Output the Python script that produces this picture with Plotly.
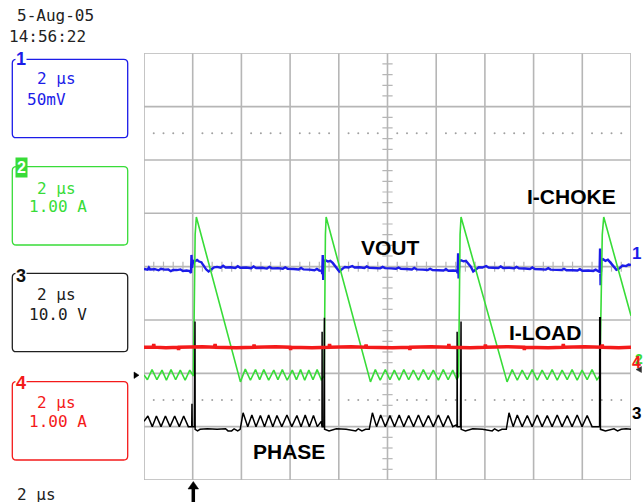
import plotly.graph_objects as go

W, H = 644, 502

# ---------------- data (read from the scope screen) ----------------
# time axis: microseconds, trigger at 0, 2 us/div, 10 divisions
t_range = [-2.0, 18.0]

# CH1  VOUT  (mV, 50 mV/div)
ch1_t = [-2.00, -1.85, -1.80, -1.75, -1.55, -1.40, -1.30, -1.15, -1.00, -0.90, -0.80, -0.65,
         -0.50, -0.40, -0.25, -0.12, -0.07, -0.05, -0.03, 0.02, 0.10, 0.18, 0.26, 0.35, 0.45,
         0.55, 0.65, 0.75, 0.88, 1.00, 1.15, 1.25, 1.35, 1.55, 1.75, 1.85, 1.95, 2.20, 2.40,
         2.50, 2.60, 2.85, 3.05, 3.15, 3.25, 3.50, 3.70, 3.80, 3.90, 4.15, 4.35, 4.45, 4.55,
         4.80, 5.00, 5.10, 5.20, 5.30, 5.32, 5.34, 5.36, 5.38, 5.45, 5.55, 5.65, 5.75, 5.85,
         5.95, 6.02, 6.12, 6.25, 6.40, 6.55, 6.65, 6.85, 7.05, 7.15, 7.25, 7.50, 7.70, 7.80,
         7.90, 8.15, 8.35, 8.45, 8.55, 8.80, 9.00, 9.10, 9.20, 9.45, 9.65, 9.75, 9.85, 10.10,
         10.30, 10.40, 10.50, 10.70, 10.85, 10.88, 10.90, 10.92, 10.95, 11.02, 11.12, 11.22,
         11.32, 11.42, 11.52, 11.62, 11.75, 11.90, 12.05, 12.15, 12.35, 12.55, 12.65, 12.75,
         13.00, 13.20, 13.30, 13.40, 13.65, 13.85, 13.95, 14.05, 14.30, 14.50, 14.60, 14.70,
         14.95, 15.15, 15.25, 15.35, 15.60, 15.80, 15.90, 16.00, 16.25, 16.45, 16.55, 16.65,
         16.71, 16.73, 16.75, 16.78, 16.85, 16.95, 17.05, 17.15, 17.25, 17.40, 17.50, 17.65,
         17.80, 17.90, 18.00]
ch1_mv = [-2.2, -2.8, -0.8, -2.6, -2.4, -3.4, -2.0, -2.8, -2.6, -4.2, -3.0, -3.2,
          -2.6, -4.0, -3.6, -4.2, -6.0, 11.0, -1.0, 5.5, 5.0, 6.2, 4.8, 4.2, 1.0,
          -2.5, -4.5, -3.0, -0.6, -0.2, -1.0, 0.8, -0.8, -0.6, -1.2, 0.4, -1.0, -0.8, -1.4,
          0.2, -1.2, -1.0, -1.8, -0.2, -1.6, -1.4, -2.0, -0.6, -2.0, -2.2, -2.6, -1.2, -2.6,
          -2.8, -3.4, -2.2, -3.6, -3.8, -7.0, 11.0, -12.5, 5.0, 6.0, 4.8, 5.5, 3.5, 0.5,
          -3.0, -4.5, -2.5, -0.4, -0.8, 0.6, -0.8, -0.6, -1.2, 0.2, -1.0, -1.0, -1.6, -0.2,
          -1.4, -1.6, -2.0, -0.8, -2.0, -2.2, -2.6, -1.2, -2.6, -2.8, -3.2, -2.0, -3.2, -3.4,
          -3.6, -2.4, -3.8, -3.6, -4.0, -6.0, 12.5, -11.0, 5.0, 6.0, 5.0, 5.5,
          3.0, 0.0, -4.5, -3.0, -0.6, -0.8, 0.6, -0.8, -0.8, -1.2, 0.2, -1.2,
          -1.0, -1.6, -0.2, -1.6, -1.8, -2.2, -0.8, -2.2, -2.4, -2.8, -1.4, -2.8,
          -3.0, -3.2, -2.0, -3.4, -3.4, -3.6, -2.4, -3.8, -3.6, -4.0, -2.8, -4.0,
          -5.0, 17.0, -17.5, 6.0, 7.0, 5.5, 6.5, 4.0, 1.0, -3.0, -2.0, 1.0,
          0.5, 2.0, 1.5]

# CH2  I-CHOKE  (A, 1.00 A/div)
ch2_t = [-2.00, -1.86, -1.67, -1.47, -1.26, -1.08, -0.89, -0.70, -0.51, -0.31, -0.12, 0.03, 0.10, 0.15,
         1.96, 2.16, 2.37, 2.58, 2.75, 2.92, 3.12, 3.33, 3.50, 3.68, 3.88, 4.09, 4.26, 4.43, 4.60,
         4.77, 4.94, 5.11, 5.28, 5.40, 5.45, 5.48,
         7.30, 7.50, 7.70, 7.91, 8.10, 8.28, 8.48, 8.67, 8.87, 9.06, 9.27, 9.47, 9.68, 9.88, 10.09,
         10.29, 10.49, 10.68, 10.85, 10.92, 10.98, 11.02,
         12.91, 13.12, 13.33, 13.53, 13.74, 13.94, 14.15, 14.35, 14.56, 14.76, 14.97, 15.17, 15.38,
         15.58, 15.79, 15.99, 16.20, 16.40, 16.60, 16.72, 16.82, 16.88,
         18.00]
ch2_a = [-0.03, -0.12, 0.07, -0.12, 0.06, -0.13, 0.07, -0.12, 0.06, -0.13, 0.06, -0.05, 2.60, 2.93,
         -0.16, 0.08, -0.13, 0.07, -0.12, 0.07, -0.13, 0.06, -0.12, 0.07, -0.13, 0.06, -0.12, 0.07, -0.13,
         0.06, -0.12, 0.07, -0.12, -0.05, 2.60, 2.93,
         -0.16, 0.07, -0.13, 0.07, -0.12, 0.06, -0.13, 0.07, -0.12, 0.06, -0.13, 0.07, -0.12, 0.06, -0.13,
         0.07, -0.12, 0.06, -0.12, -0.05, 2.60, 2.93,
         -0.16, 0.07, -0.13, 0.06, -0.12, 0.07, -0.13, 0.06, -0.12, 0.07, -0.13, 0.06, -0.12,
         0.07, -0.13, 0.06, -0.12, 0.07, -0.12, -0.05, 2.60, 2.93,
         1.08]

# CH3  PHASE  (V, 10.0 V/div)
ch3_t = [-2.00, -1.84, -1.66, -1.49, -1.30, -1.12, -0.93, -0.74, -0.55, -0.37, -0.18, -0.04, -0.03, -0.02,
         0.07, 0.075, 0.095, 0.10, 0.20, 0.30, 0.60, 1.00, 1.35, 1.45, 1.60, 1.70, 1.85, 1.95,
         2.07, 2.26, 2.43, 2.60, 2.78, 2.95, 3.12, 3.29, 3.46, 3.66, 3.87, 4.07, 4.28, 4.45, 4.62,
         4.79, 4.96, 5.12, 5.28, 5.31, 5.315, 5.32, 5.385, 5.39, 5.41, 5.415,
         5.60, 5.90, 6.30, 6.70, 6.80, 6.95, 7.10, 7.25,
         7.38, 7.55, 7.72, 7.91, 8.10, 8.29, 8.48, 8.67, 8.87, 9.07, 9.27, 9.47, 9.68, 9.88, 10.09,
         10.29, 10.49, 10.68, 10.82, 10.855, 10.86, 10.865, 10.87, 10.995, 11.00, 11.02, 11.025,
         11.20, 11.50, 11.90, 12.30, 12.40, 12.55, 12.70, 12.88,
         12.99, 13.16, 13.33, 13.53, 13.74, 13.94, 14.15, 14.35, 14.56, 14.76, 14.97, 15.17, 15.38,
         15.58, 15.79, 15.99, 16.20, 16.40, 16.58, 16.71, 16.715, 16.74, 16.745,
         16.95, 17.30, 17.45, 17.60, 17.80, 18.00]
ch3_v = [1.0, 2.0, 0.0, 2.0, 0.0, 2.0, 0.0, 2.0, 0.0, 2.0, 0.0, 0.0, 4.3, 0.0,
         0.0, 19.7, 19.7, -0.5, -0.8, -0.5, -0.4, -0.5, -0.4, -0.8, -0.8, -0.4, -0.8, -0.5,
         2.6, 0.0, 2.2, 0.0, 2.1, 0.0, 2.2, 0.0, 2.1, 0.0, 2.2, 0.0, 2.1, 0.0, 2.2,
         0.0, 2.1, 0.0, 1.0, 0.0, 17.8, 0.0, 0.0, 20.4, 20.4, -0.5,
         -0.8, -0.4, -0.5, -0.8, -0.4, -0.8, -0.5, -0.5,
         2.6, 0.0, 2.2, 0.0, 2.1, 0.0, 2.2, 0.0, 2.1, 0.0, 2.2, 0.0, 2.1, 0.0, 2.2,
         0.0, 2.1, 0.0, 0.3, 0.0, 17.8, 0.0, 0.0, 0.0, 19.7, 19.7, -0.5,
         -0.8, -0.4, -0.5, -0.8, -0.4, -0.8, -0.5, -0.5,
         2.6, 0.0, 2.2, 0.0, 2.1, 0.0, 2.2, 0.0, 2.1, 0.0, 2.2, 0.0, 2.1,
         0.0, 2.2, 0.0, 2.1, 0.0, 0.0, 0.0, 20.4, 20.4, -0.5,
         -0.8, -0.4, -0.8, -0.5, -0.4, -0.5]

# CH4  I-LOAD  (A, 1.00 A/div)
ch4_t = [-2.00, -1.62, -1.60, -1.58, -1.10, -0.60, -0.58, -0.56, 0.40, 0.90, 0.92, 0.94, 1.80,
         2.50, 2.52, 2.54, 3.40, 4.00, 4.02, 4.04, 4.90, 5.60, 5.62, 5.64, 6.50, 7.10, 7.12, 7.14,
         8.20, 8.90, 8.92, 8.94, 9.80, 10.50, 10.52, 10.54, 11.40, 12.00, 12.02, 12.04, 12.90,
         13.60, 13.62, 13.64, 14.60, 15.20, 15.22, 15.24, 16.10, 16.80, 16.82, 16.84, 17.50, 18.00]
ch4_a = [0.49, 0.49, 0.55, 0.49, 0.48, 0.49, 0.44, 0.49, 0.50, 0.49, 0.55, 0.49, 0.48,
         0.49, 0.54, 0.49, 0.50, 0.49, 0.44, 0.49, 0.48, 0.49, 0.55, 0.49, 0.50, 0.49, 0.54, 0.49,
         0.48, 0.49, 0.44, 0.49, 0.50, 0.49, 0.55, 0.49, 0.48, 0.49, 0.54, 0.49, 0.50,
         0.49, 0.44, 0.49, 0.48, 0.49, 0.55, 0.49, 0.50, 0.49, 0.54, 0.49, 0.48, 0.49]

# channel setups: (volts-or-amps per div, ground position in divisions from centre)
ch1_scale, ch1_gnd = 50.0, 0.0
ch2_scale, ch2_gnd = 1.0, -2.0
ch3_scale, ch3_gnd = 10.0, -3.0
ch4_scale, ch4_gnd = 1.0, -2.0

date_text = "5-Aug-05"
time_text = "14:56:22"
ch_panels = [("1", "2 μs", "50mV"), ("2", "2 μs", "1.00 A"), ("3", "2 μs", "10.0 V"), ("4", "2 μs", "1.00 A")]
timebase_text = "2 μs"
trace_labels = ["VOUT", "I-CHOKE", "I-LOAD", "PHASE"]

# ---------------- style ----------------
BLUE = "#1c1ce8"
GREEN = "#38dc38"
BLACK = "#000000"
RED = "#f41a1a"
GRID = "#b6b6b6"
MONO = "DejaVu Sans Mono"
SANS = "Liberation Sans, Arial"

X0, X1 = 144.0, 631.0
Y0, Y1 = 53.3, 480.0


def PX(x):
    return x / W


def PY(y):
    return 1 - y / H


def rng(scale, gnd):
    return [(-4 - gnd) * scale, (4 - gnd) * scale]


fig = go.Figure()

# dotted graticule rows
dot_t = [t_range[0] + 0.4 * k for k in range(1, 50) if k % 5 != 0]
for yy in (2.5, -2.5):
    fig.add_trace(go.Scatter(x=dot_t, y=[yy] * len(dot_t), mode="markers",
                             marker=dict(size=2, color="#a0a0a0"), hoverinfo="skip",
                             showlegend=False, xaxis="x", yaxis="y"))

fig.add_trace(go.Scatter(x=ch4_t, y=ch4_a, mode="lines", line=dict(color=RED, width=3.5),
                         yaxis="y5", showlegend=False))
fig.add_trace(go.Scatter(x=ch3_t, y=ch3_v, mode="lines", line=dict(color=BLACK, width=1.5),
                         yaxis="y4", showlegend=False))
fig.add_trace(go.Scatter(x=ch1_t, y=ch1_mv, mode="lines", line=dict(color=BLUE, width=2.4),
                         yaxis="y2", showlegend=False))
fig.add_trace(go.Scatter(x=ch2_t, y=ch2_a, mode="lines", line=dict(color=GREEN, width=1.6),
                         yaxis="y3", showlegend=False))

shapes = []
# graticule
for k in range(11):
    t = t_range[0] + 2 * k
    shapes.append(dict(type="line", xref="x", yref="y", x0=t, x1=t, y0=-4, y1=4,
                       line=dict(color=GRID, width=1.6), layer="below"))
for k in range(9):
    d = -4 + k
    shapes.append(dict(type="line", xref="x", yref="y", x0=t_range[0], x1=t_range[1], y0=d, y1=d,
                       line=dict(color=GRID, width=1.6), layer="below"))
# centre-cross minor ticks
for k in range(41):
    if k % 5 == 0:
        continue
    d = -4 + 0.2 * k
    shapes.append(dict(type="line", xref="x", yref="y", x0=8 - 0.21, x1=8 + 0.21, y0=d, y1=d,
                       line=dict(color=GRID, width=1.2), layer="below"))
for k in range(51):
    if k % 5 == 0:
        continue
    t = t_range[0] + 0.4 * k
    shapes.append(dict(type="line", xref="x", yref="y", x0=t, x1=t, y0=-0.094, y1=0.094,
                       line=dict(color=GRID, width=1.2), layer="below"))

# white boxes behind the trace names
for (bx0, by0, bx1, by1) in [(356, 230, 426, 262), (520, 186.5, 622, 208.5),
                             (500, 321.5, 592, 343), (249, 431, 330, 463)]:
    shapes.append(dict(type="rect", xref="paper", yref="paper", x0=PX(bx0), x1=PX(bx1),
                       y0=PY(by1), y1=PY(by0), fillcolor="white", line=dict(width=0), layer="below"))


def rrect(x0, y0, x1, y1, r):
    return (f"M {PX(x0 + r)},{PY(y0)} L {PX(x1 - r)},{PY(y0)} Q {PX(x1)},{PY(y0)} {PX(x1)},{PY(y0 + r)} "
            f"L {PX(x1)},{PY(y1 - r)} Q {PX(x1)},{PY(y1)} {PX(x1 - r)},{PY(y1)} "
            f"L {PX(x0 + r)},{PY(y1)} Q {PX(x0)},{PY(y1)} {PX(x0)},{PY(y1 - r)} "
            f"L {PX(x0)},{PY(y0 + r)} Q {PX(x0)},{PY(y0)} {PX(x0 + r)},{PY(y0)} Z")


panel_colors = [BLUE, GREEN, "#202020", RED]
panel_y = [(59.3, 137.7), (166.7, 245.0), (273.3, 351.7), (381.7, 460.0)]
for col, (ya, yb) in zip(panel_colors, panel_y):
    shapes.append(dict(type="path", xref="paper", yref="paper", path=rrect(12.3, ya, 127.7, yb, 4),
                       line=dict(color=col, width=1.3), layer="above"))


def tri(pts, col):
    p = "M " + " L ".join(f"{PX(a)},{PY(b)}" for a, b in pts) + " Z"
    return dict(type="path", xref="paper", yref="paper", path=p, fillcolor=col,
                line=dict(color=col, width=0.5), layer="above")


shapes.append(tri([(134.0, 372.0), (134.0, 378.5), (139.0, 375.2)], BLACK))
shapes.append(tri([(636.0, 369.5), (641.5, 366.5), (641.5, 372.5)], "#303030"))
# trigger arrow below the grid
shapes.append(dict(type="line", xref="paper", yref="paper", x0=PX(193.3), x1=PX(193.3),
                   y0=PY(487), y1=PY(502), line=dict(color=BLACK, width=3.5), layer="above"))
shapes.append(tri([(188.0, 489.0), (198.6, 489.0), (193.3, 481.5)], BLACK))

annotations = []


def txt(s, x, y, col, size, family=MONO, anchor="left", bg=None, pad=0):
    d = dict(text=s, x=PX(x), y=PY(y), xref="paper", yref="paper", xanchor=anchor, yanchor="middle",
             showarrow=False, font=dict(family=family, size=size, color=col), borderpad=pad)
    if bg:
        d["bgcolor"] = bg
    annotations.append(d)


txt(date_text, 15.5, 16, "#222222", 16)
txt(time_text, 8.0, 36, "#222222", 16)
txt(timebase_text, 15.5, 494, "#222222", 16)

text_y = [(79, 99), (188, 206), (294, 314), (402, 421)]
first_x = [26, 28, 28, 28]
for (num, a, b), col, (ya, yb), fx in zip(ch_panels, panel_colors, text_y, first_x):
    txt(a, 35.5, ya, col, 16)
    txt(b, fx, yb, col, 16)

# channel number tabs on the boxes
txt("<b>1</b>", 21, 59, BLUE, 18, SANS, "center", "white")
txt("<b>2</b>", 21.7, 168, "white", 16, SANS, "center", GREEN, 1)
txt("<b>3</b>", 21, 276, "#111111", 18, SANS, "center", "white")
txt("<b>4</b>", 21, 383, RED, 18, SANS, "center", "white")

# right-hand channel markers
txt("<b>1</b>", 636.5, 253, BLUE, 17, SANS, "center")
txt("<b>2</b>", 638.5, 359, GREEN, 14, SANS, "center")
txt("<b>4</b>", 636.0, 362, RED, 16, SANS, "center")
txt("<b>3</b>", 636.5, 413, BLACK, 17, SANS, "center")

# trace names
for s, (x, y) in zip(trace_labels, [(391, 247.5), (571, 196.8), (545, 332.8), (289, 451)]):
    txt(f"<b>{s}</b>", x, y, BLACK, 21, SANS, "center")

ydom = [PY(Y1), PY(Y0)]
fig.update_layout(
    width=W, height=H, margin=dict(l=0, r=0, t=0, b=0),
    paper_bgcolor="white", plot_bgcolor="white", showlegend=False,
    xaxis=dict(domain=[PX(X0), PX(X1)], range=t_range, visible=False, fixedrange=True),
    yaxis=dict(domain=ydom, range=[-4, 4], visible=False, fixedrange=True),
    yaxis2=dict(overlaying="y", anchor="x", range=rng(ch1_scale, ch1_gnd), visible=False),
    yaxis3=dict(overlaying="y", anchor="x", range=rng(ch2_scale, ch2_gnd), visible=False),
    yaxis4=dict(overlaying="y", anchor="x", range=rng(ch3_scale, ch3_gnd), visible=False),
    yaxis5=dict(overlaying="y", anchor="x", range=rng(ch4_scale, ch4_gnd), visible=False),
    shapes=shapes, annotations=annotations,
)

fig.write_html("out.html", config={"displayModeBar": False},
               post_script="document.body.style.margin='0';document.body.style.overflow='hidden';")
